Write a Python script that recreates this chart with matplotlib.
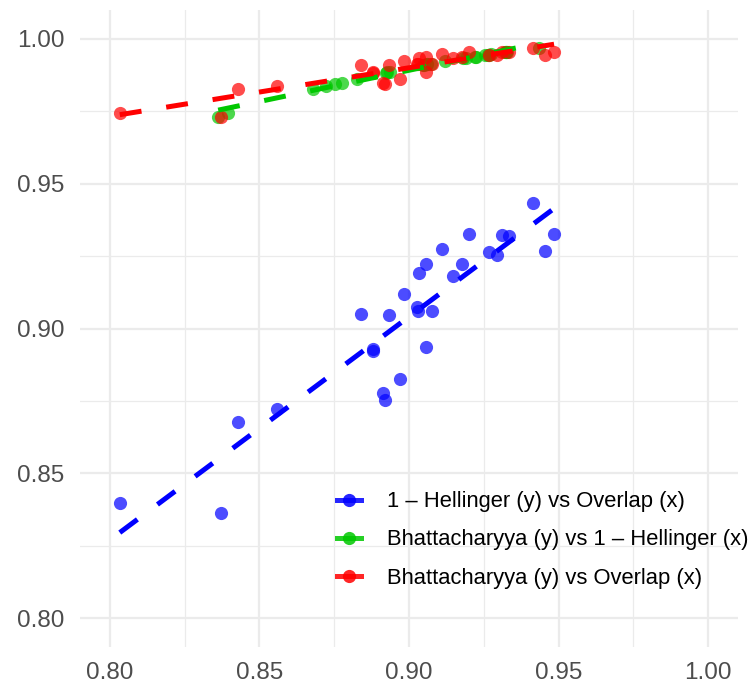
import numpy as np
import matplotlib
matplotlib.use('Agg')
import matplotlib.pyplot as plt
from matplotlib.lines import Line2D
from matplotlib.ticker import MultipleLocator

plt.rcParams['font.family'] = ['Liberation Sans', 'DejaVu Sans']

# one value per sample
overlap = [0.8033, 0.8371, 0.8429, 0.8560, 0.8838, 0.8879, 0.8880, 0.8913, 0.8920, 0.8932,
           0.8970, 0.8983, 0.9026, 0.9031, 0.9034, 0.9056, 0.9056, 0.9076, 0.9112, 0.9146,
           0.9176, 0.9201, 0.9269, 0.9293, 0.9310, 0.9336, 0.9414, 0.9455, 0.9485]
one_minus_hellinger = [0.8396, 0.8362, 0.8678, 0.8721, 0.9049, 0.8922, 0.8928, 0.8777, 0.8753, 0.9047,
                       0.8826, 0.9119, 0.9075, 0.9061, 0.9191, 0.9223, 0.8937, 0.9060, 0.9275, 0.9182,
                       0.9222, 0.9325, 0.9265, 0.9254, 0.9323, 0.9320, 0.9435, 0.9268, 0.9326]
bhattacharyya = [0.9743, 0.9731, 0.9826, 0.9837, 0.9910, 0.9884, 0.9885, 0.9849, 0.9846, 0.9909,
                 0.9862, 0.9923, 0.9914, 0.9912, 0.9934, 0.9939, 0.9887, 0.9912, 0.9948, 0.9934,
                 0.9939, 0.9955, 0.9946, 0.9944, 0.9954, 0.9954, 0.9968, 0.9946, 0.9955]

series = [
    ('1 \u2013 Hellinger (y) vs Overlap (x)', overlap, one_minus_hellinger, 'blue'),
    ('Bhattacharyya (y) vs 1 \u2013 Hellinger (x)', one_minus_hellinger, bhattacharyya, '#00C800'),
    ('Bhattacharyya (y) vs Overlap (x)', overlap, bhattacharyya, 'red'),
]

fig = plt.figure(figsize=(7.5, 6.87), dpi=100)
ax = fig.add_axes([80/750, 1 - 647/687, (738 - 80)/750, (647 - 10)/687])

for name, x, y, col in series:
    ax.scatter(x, y, s=90, color=col, alpha=0.7, linewidths=0, zorder=3)

# straight-line fit per series, dashed
for name, x, y, col in series:
    x = np.array(x)
    y = np.array(y)
    slope, icpt = np.polyfit(x, y, 1)
    xs = np.array([x.min(), x.max()])
    ax.plot(xs, icpt + slope * xs, color=col, lw=3.6, linestyle=(0, (4.4, 5.0)),
            dash_capstyle='butt', zorder=4)

ax.set_xlim(0.79, 1.01)
ax.set_ylim(0.79, 1.01)
ax.xaxis.set_major_locator(MultipleLocator(0.05))
ax.yaxis.set_major_locator(MultipleLocator(0.05))
ax.xaxis.set_minor_locator(MultipleLocator(0.025))
ax.yaxis.set_minor_locator(MultipleLocator(0.025))
ax.xaxis.set_major_formatter(matplotlib.ticker.FormatStrFormatter('%.2f'))
ax.yaxis.set_major_formatter(matplotlib.ticker.FormatStrFormatter('%.2f'))
ax.grid(which='major', color='#EBEBEB', lw=1.6, zorder=0)
ax.grid(which='minor', color='#EBEBEB', lw=0.9, zorder=0)
ax.set_axisbelow(True)
for s in ax.spines.values():
    s.set_visible(False)
ax.tick_params(which='both', length=0, labelsize=17.5, labelcolor='#4D4D4D', pad=11)

handles = [Line2D([0], [0], color=col, lw=3.6, marker='o', markersize=9.5,
                  markerfacecolor=col, markeredgewidth=0, alpha=0.85)
           for name, x, y, col in series]
labels = [name for name, x, y, col in series]
ax.legend(handles, labels, loc='center left', bbox_to_anchor=(337/750, 1 - 540/687),
          bbox_transform=fig.transFigure, frameon=False, fontsize=15.8,
          handlelength=1.1, handletextpad=1.2, labelspacing=0.78, borderpad=0, borderaxespad=0)

fig.savefig('out.png', dpi=100)
